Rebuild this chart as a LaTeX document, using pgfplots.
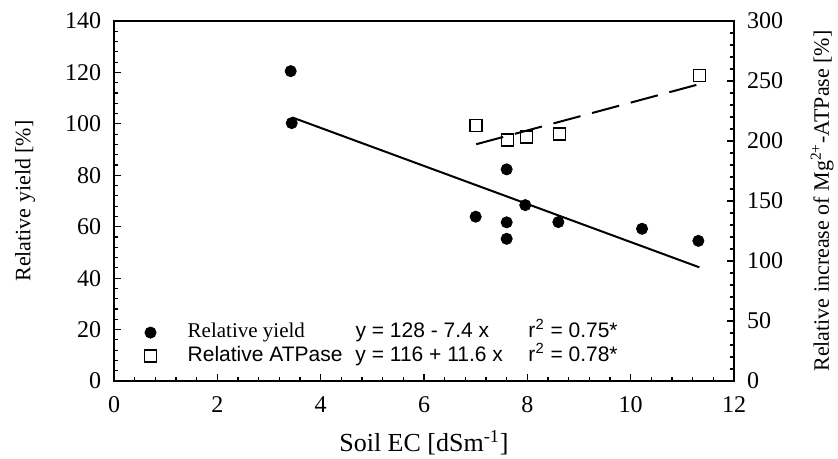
\documentclass[border=0pt]{standalone}
\usepackage{fontspec}
\setmainfont{Liberation Serif}
\newfontfamily\arial{Liberation Sans}
\usepackage{pgfplots}
\pgfplotsset{compat=1.18}
\begin{document}
\begin{tikzpicture}
\pgfplotsset{
  common/.style={
    scale only axis, width=310pt, height=180pt,
    xmin=0, xmax=12,
    tick align=inside,
    major tick length=3.5pt, minor tick length=2.2pt,
    /pgf/number format/assume math mode=true,
    ticklabel style={font=\fontsize{12}{14}\selectfont},
    every tick/.style={black, line width=0.6pt},
    axis line style={line width=0.75pt},
  }
}
\begin{axis}[common, name=ax1,
  ymin=0, ymax=140,
  xtick={0,2,...,12}, minor x tick num=4,
  ytick={0,20,...,140}, minor y tick num=4,
  xtick pos=lower, ytick pos=left,
  xticklabel style={yshift=-4.3pt},
  yticklabel style={xshift=-2.9pt},
  xlabel={Soil EC [dSm\textsuperscript{-1}]},
  ylabel={Relative yield [\%]},
  xlabel style={font=\fontsize{13}{15}\selectfont, at={(axis description cs:0.5,-0.172)}, anchor=center},
  ylabel style={font=\fontsize{11}{13}\selectfont, at={(axis description cs:-0.1435,0.5)}, anchor=center},
]
\addplot[only marks, mark=*, mark size=2.8pt, black] coordinates {
 (3.42,120.5) (3.44,100.3) (7.0,63.9) (7.6,82.3) (7.6,61.7) (7.6,55.3)
 (7.96,68.4) (8.6,61.8) (10.22,59.2) (11.31,54.5)};
\addplot[black, line width=1pt] coordinates {(3.45,102.5) (11.33,44.2)};
\end{axis}
\begin{axis}[common,
  ymin=0, ymax=300,
  axis x line=none, axis y line*=right,
  ytick={0,50,...,300}, minor y tick num=4,
  yticklabel style={xshift=3pt},
  ylabel={Relative increase of Mg\textsuperscript{2+}-ATPase [\%]},
  ylabel style={font=\fontsize{11}{13}\selectfont, at={(axis description cs:1.142,0.5)}, anchor=center, rotate=0},
  legend style={draw=none, fill=none, inner sep=0pt, outer sep=0pt,
    row sep=1.7pt, column sep=10.6pt,
    font=\fontsize{10.5}{12}\selectfont,
    nodes={inner sep=0pt, text height=7.5pt, text depth=2.5pt},
    at={(axis description cs:0,0)}, anchor=south west, xshift=10.25pt, yshift=7.5pt},
  legend cell align=left,
  legend image code/.code={\path[draw=none,fill=none] (0pt,-3pt) (16pt,3pt); \draw[#1] plot coordinates {(8pt,0pt)};},
]
\addlegendimage{only marks, mark=*, mark size=2.8pt, black}
\addlegendentry{\makebox[83.9pt][l]{Relative yield}\makebox[86.5pt][l]{\arial y = 128 - 7.4 x}\arial r\textsuperscript{2} = 0.75*}
\addplot[only marks, mark=square, mark size=3pt, black, line width=0.7pt] coordinates {
 (7.01,212.9) (7.62,200.9) (7.98,203.2) (8.62,205.9) (11.33,254.4)};
\addlegendentry{\makebox[83.9pt][l]{\arial Relative ATPase}\makebox[86.5pt][l]{\arial y = 116 + 11.6 x}\arial r\textsuperscript{2} = 0.78*}
\addplot[black, line width=1pt, dash pattern=on 14pt off 6pt, forget plot] coordinates {(7.01,197.3) (11.33,247.4)};
\end{axis}
\pgfresetboundingbox
\path[use as bounding box] ([xshift=-57pt,yshift=-39pt]ax1.south west) rectangle ([xshift=52pt,yshift=10.5pt]ax1.north east);
\end{tikzpicture}
\end{document}
